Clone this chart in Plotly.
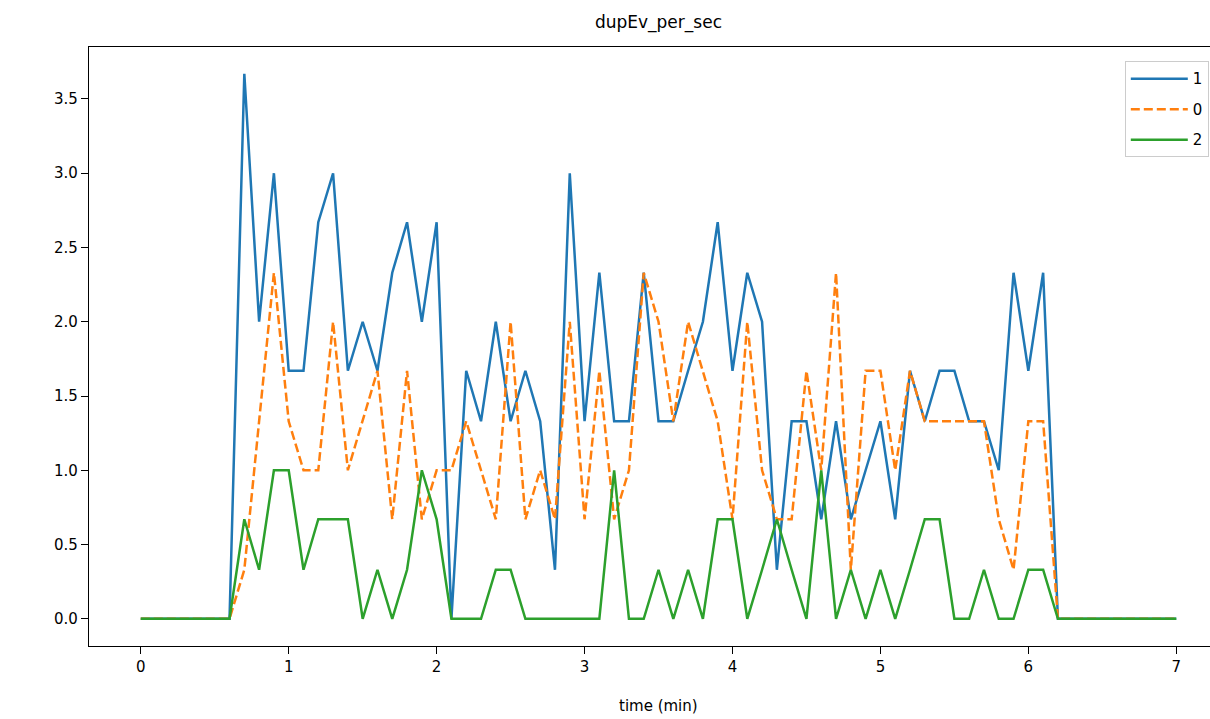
import plotly.graph_objects as go

time_min = [0.0, 0.1, 0.2, 0.3, 0.4, 0.5, 0.6, 0.7, 0.8, 0.9,
            1.0, 1.1, 1.2, 1.3, 1.4, 1.5, 1.6, 1.7, 1.8, 1.9,
            2.0, 2.1, 2.2, 2.3, 2.4, 2.5, 2.6, 2.7, 2.8, 2.9,
            3.0, 3.1, 3.2, 3.3, 3.4, 3.5, 3.6, 3.7, 3.8, 3.9,
            4.0, 4.1, 4.2, 4.3, 4.4, 4.5, 4.6, 4.7, 4.8, 4.9,
            5.0, 5.1, 5.2, 5.3, 5.4, 5.5, 5.6, 5.7, 5.8, 5.9,
            6.0, 6.1, 6.2, 6.3, 6.4, 6.5, 6.6, 6.7, 6.8, 6.9, 7.0]

series_1 = [0, 0, 0, 0, 0, 0, 0, 3.67, 2.0, 3.0,
            1.67, 1.67, 2.67, 3.0, 1.67, 2.0, 1.67, 2.33, 2.67, 2.0,
            2.67, 0, 1.67, 1.33, 2.0, 1.33, 1.67, 1.33, 0.33, 3.0,
            1.33, 2.33, 1.33, 1.33, 2.33, 1.33, 1.33, 1.67, 2.0, 2.67,
            1.67, 2.33, 2.0, 0.33, 1.33, 1.33, 0.67, 1.33, 0.67, 1.0,
            1.33, 0.67, 1.67, 1.33, 1.67, 1.67, 1.33, 1.33, 1.0, 2.33,
            1.67, 2.33, 0, 0, 0, 0, 0, 0, 0, 0, 0]

series_0 = [0, 0, 0, 0, 0, 0, 0, 0.33, 1.33, 2.33,
            1.33, 1.0, 1.0, 2.0, 1.0, 1.33, 1.67, 0.67, 1.67, 0.67,
            1.0, 1.0, 1.33, 1.0, 0.67, 2.0, 0.67, 1.0, 0.67, 2.0,
            0.67, 1.67, 0.67, 1.0, 2.33, 2.0, 1.33, 2.0, 1.67, 1.33,
            0.67, 2.0, 1.0, 0.67, 0.67, 1.67, 1.0, 2.33, 0.33, 1.67,
            1.67, 1.0, 1.67, 1.33, 1.33, 1.33, 1.33, 1.33, 0.67, 0.33,
            1.33, 1.33, 0, 0, 0, 0, 0, 0, 0, 0, 0]

series_2 = [0, 0, 0, 0, 0, 0, 0, 0.67, 0.33, 1.0,
            1.0, 0.33, 0.67, 0.67, 0.67, 0, 0.33, 0, 0.33, 1.0,
            0.67, 0, 0, 0, 0.33, 0.33, 0, 0, 0, 0,
            0, 0, 1.0, 0, 0, 0.33, 0, 0.33, 0, 0.67,
            0.67, 0, 0.33, 0.67, 0.33, 0, 1.0, 0, 0.33, 0,
            0.33, 0, 0.33, 0.67, 0.67, 0, 0, 0.33, 0, 0,
            0.33, 0.33, 0, 0, 0, 0, 0, 0, 0, 0, 0]

x_ticks = [0, 1, 2, 3, 4, 5, 6, 7]
y_ticks = [0.0, 0.5, 1.0, 1.5, 2.0, 2.5, 3.0, 3.5]

FONT = "DejaVu Sans"

fig = go.Figure()
fig.add_trace(go.Scatter(x=time_min, y=series_1, mode="lines", name="1",
                         legendgroup="a",
                         line=dict(color="#1f77b4", width=2.5)))
fig.add_trace(go.Scatter(x=time_min, y=series_0, mode="lines", name="0",
                         legendgroup="b",
                         line=dict(color="#ff7f0e", width=2.5, dash="9px,4px")))
fig.add_trace(go.Scatter(x=time_min, y=series_2, mode="lines", name="2",
                         legendgroup="c",
                         line=dict(color="#2ca02c", width=2.5)))

fig.update_layout(
    width=1210, height=719,
    margin=dict(l=89, r=0, t=47, b=73, autoexpand=False),
    paper_bgcolor="white", plot_bgcolor="white",
    font=dict(family=FONT, size=15, color="black"),
    title=dict(text="dupEv_per_sec", x=0.508, xref="paper", xanchor="center",
               y=1 - 22 / 719, yref="container", yanchor="middle",
               font=dict(family=FONT, size=17, color="black")),
    showlegend=True,
    legend=dict(x=0.924, y=0.976, xanchor="left", yanchor="top",
                bgcolor="rgba(255,255,255,0.8)", bordercolor="#cccccc",
                borderwidth=1, tracegroupgap=8, itemwidth=57,
                font=dict(family=FONT, size=15, color="black")),
    annotations=[dict(text="time (min)", xref="paper", yref="paper",
                      x=0.508, y=-(706 - 646) / 599, xanchor="center",
                      yanchor="middle", showarrow=False,
                      font=dict(family=FONT, size=15, color="black"))],
)

fig.update_xaxes(range=[-0.35, 7.228], tickvals=x_ticks,
                 ticktext=[str(v) for v in x_ticks],
                 showgrid=False, zeroline=False,
                 showline=True, linecolor="black", linewidth=1.3, mirror=True,
                 ticks="outside", ticklen=7, tickwidth=1.3, tickcolor="black")
fig.update_yaxes(range=[-0.18333, 3.85], tickvals=y_ticks,
                 ticktext=[f"{v:.1f}" for v in y_ticks],
                 showgrid=False, zeroline=False,
                 showline=True, linecolor="black", linewidth=1.3, mirror=False,
                 ticks="outside", ticklen=7, tickwidth=1.3, tickcolor="black")

fig.write_html("out.html",
               config={"displayModeBar": False},
               post_script="document.body.style.margin='0px';"
                           "document.body.style.overflow='hidden';")
